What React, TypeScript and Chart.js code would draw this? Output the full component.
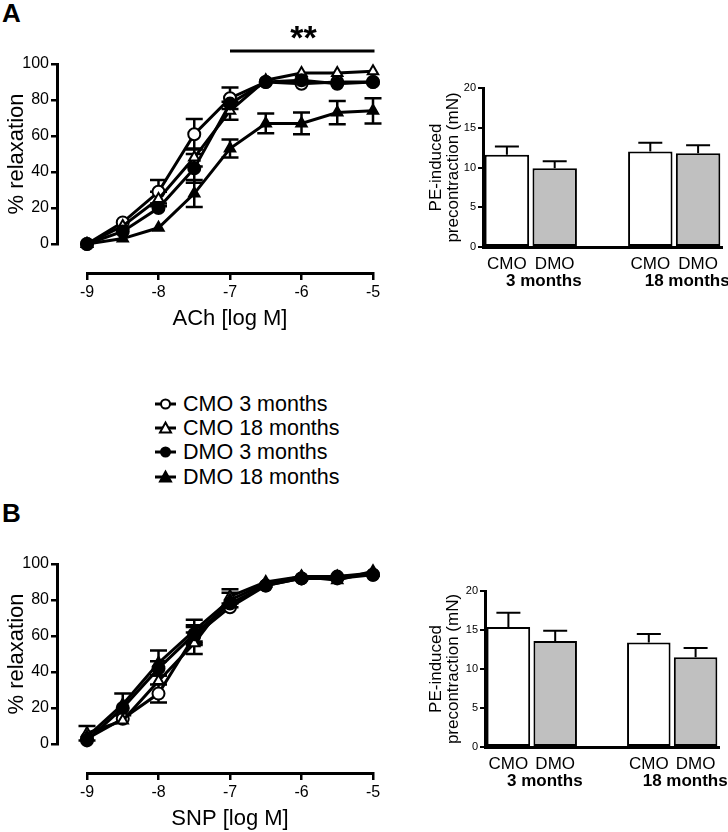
import React, { useEffect, useRef } from 'react';
import { Chart, registerables } from 'chart.js';

Chart.register(...registerables);

const FONT = '"Liberation Sans", Arial, Helvetica, sans-serif';

// ---------- data ----------
const doses = [-9, -8.5, -8, -7.5, -7, -6.5, -6, -5.5, -5];
const seriesNames = ['CMO 3 months', 'CMO 18 months', 'DMO 3 months', 'DMO 18 months'];

// Panel A: ACh
const achCmo3 = [0, 12, 29, 61, 81, 90, 89, 90, 90];
const achCmo3Err = [0.5, 2.5, 6.5, 8.5, 6, 1.5, 2, 1.5, 1.5];
const achCmo18 = [0, 10, 25, 48, 74, 91, 95, 95, 96];
const achCmo18Err = [0.5, 2.5, 4, 5, 5, 1.5, 1, 1.5, 1.5];
const achDmo3 = [0, 7, 20, 42, 78, 90, 91, 89, 90];
const achDmo3Err = [0.5, 2, 2, 8, 3, 1.5, 1.5, 2, 1.5];
const achDmo18 = [0, 3, 9, 28, 53, 67, 67, 73, 74];
const achDmo18Err = [0.5, 1.5, 3.5, 7.5, 5, 5.5, 6, 6.5, 7];

// Panel B: SNP
const snpCmo3 = [3, 14, 28, 60, 76, 88, 92, 92, 94];
const snpCmo3Err = [1, 2, 5, 5, 3, 2, 1, 1, 1];
const snpCmo18 = [6, 13, 35, 56, 82, 90, 93, 93, 95];
const snpCmo18Err = [4, 2, 3, 6, 4, 2, 1, 2, 1];
const snpDmo3 = [2, 20, 42, 61, 78, 88, 92, 93, 94];
const snpDmo3Err = [1, 3, 4, 5, 3, 2, 1, 1, 1];
const snpDmo18 = [4, 22, 45, 63, 80, 89, 93, 91, 96];
const snpDmo18Err = [2, 6, 7, 6, 4, 3, 1, 3, 1];

// PE-induced precontraction bars
const barLabels = ['CMO', 'DMO', '', 'CMO', 'DMO'];
const groupLabels = ['3 months', '18 months'];
const groupMembers = [[0, 1], [3, 4]];
const peA = [11.6, 9.9, null, 12.0, 11.8];
const peAErr = [1.05, 0.9, null, 1.1, 1.0];
const peB = [15.4, 13.6, null, 13.4, 11.5];
const peBErr = [1.8, 1.3, null, 1.1, 1.2];
const barFills = ['#ffffff', '#c0c0c0', '#ffffff', '#ffffff', '#c0c0c0'];

// ---------- styles ----------
const AXIS_COLOR = '#000000';
const seriesStyles = [
  { pointStyle: 'circle', fill: '#ffffff' },
  { pointStyle: 'triangle', fill: '#ffffff' },
  { pointStyle: 'circle', fill: '#000000' },
  { pointStyle: 'triangle', fill: '#000000' },
];

const lineErrorPlugin = (errors: number[][]) => ({
  id: 'lineErrors',
  beforeDatasetsDraw(chart: any) {
    const { ctx, scales } = chart;
    const y = scales.y;
    ctx.save();
    ctx.strokeStyle = '#000';
    ctx.lineWidth = 2.5;
    chart.data.datasets.forEach((ds: any, i: number) => {
      const meta = chart.getDatasetMeta(i);
      meta.data.forEach((pt: any, j: number) => {
        const v = ds.data[j].y;
        const e = errors[i][j];
        const top = y.getPixelForValue(v + e);
        const bot = y.getPixelForValue(v - e);
        if (bot - top < 14) return;
        ctx.beginPath();
        ctx.moveTo(pt.x, top);
        ctx.lineTo(pt.x, bot);
        ctx.moveTo(pt.x - 8.5, top);
        ctx.lineTo(pt.x + 8.5, top);
        ctx.moveTo(pt.x - 8.5, bot);
        ctx.lineTo(pt.x + 8.5, bot);
        ctx.stroke();
      });
    });
    ctx.restore();
  },
});

const sigFrom = -7;
const sigTo = -5;
const sigText = '**';
const sigPlugin = {
  id: 'sig',
  afterDraw(chart: any) {
    const { ctx, chartArea, scales } = chart;
    const x1 = scales.x.getPixelForValue(sigFrom);
    const x2 = scales.x.getPixelForValue(sigTo);
    const ly = chartArea.top - 13;
    ctx.save();
    ctx.strokeStyle = '#000';
    ctx.lineWidth = 3;
    ctx.beginPath();
    ctx.moveTo(x1, ly);
    ctx.lineTo(x2 + 1.5, ly);
    ctx.stroke();
    ctx.fillStyle = '#000';
    ctx.font = `bold 34px ${FONT}`;
    ctx.textAlign = 'center';
    ctx.textBaseline = 'alphabetic';
    ctx.fillText(sigText, (x1 + x2) / 2 + 2, ly - 2);
    ctx.restore();
  },
};

const spacer = (pos: string, size: number) => ({
  type: 'linear',
  position: pos,
  weight: 0,
  display: true,
  grid: { display: false, drawTicks: false },
  border: { display: false },
  ticks: { display: false },
  afterFit: (s: any) => {
    if (pos === 'bottom') s.height = size;
    else s.width = size;
  },
});

function LineChart({ series, errors, xTitle, top, showSig }: any) {
  const ref = useRef<HTMLCanvasElement>(null);
  useEffect(() => {
    const plugins: any[] = [lineErrorPlugin(errors)];
    if (showSig) plugins.push(sigPlugin);
    const gridOpts = (tl: number) => ({
      display: true,
      drawOnChartArea: false,
      drawTicks: true,
      tickLength: tl,
      lineWidth: 2.5,
      color: '#000',
    });
    const chart = new Chart(ref.current as HTMLCanvasElement, {
      type: 'line',
      data: {
        datasets: series.map((vals: number[], i: number) => ({
          label: seriesNames[i],
          data: doses.map((d, j) => ({ x: d, y: vals[j] })),
          borderColor: '#000',
          borderWidth: 3,
          pointStyle: seriesStyles[i].pointStyle,
          pointRadius: 6,
          pointBackgroundColor: seriesStyles[i].fill,
          pointBorderColor: '#000',
          pointBorderWidth: 2,
          tension: 0,
          fill: false,
          clip: false,
          order: seriesNames.length - i,
          xAxisID: 'x',
          yAxisID: 'y',
        })),
      },
      options: {
        animation: false,
        responsive: false,
        events: [],
        layout: { padding: { top: 64, right: 27, left: 0, bottom: 0 } },
        plugins: { legend: { display: false }, tooltip: { enabled: false } },
        scales: {
          xGap: spacer('bottom', 29),
          yGap: spacer('left', 30),
          x: {
            type: 'linear',
            position: 'bottom',
            weight: 1,
            min: -9,
            max: -5,
            afterFit: (s: any) => {
              s.height = 67;
            },
            grid: gridOpts(7),
            border: { display: true, color: AXIS_COLOR, width: 3 },
            ticks: {
              stepSize: 1,
              color: '#000',
              font: { family: FONT, size: 16 },
              padding: 3,
              maxRotation: 0,
              callback: (v: any) => String(v),
            },
            title: {
              display: true,
              text: xTitle,
              color: '#000',
              font: { family: FONT, size: 22 },
              padding: { top: 0, bottom: 8 },
            },
          },
          y: {
            type: 'linear',
            position: 'left',
            weight: 1,
            min: 0,
            max: 100,
            afterFit: (s: any) => {
              s.width = 57;
            },
            grid: gridOpts(6),
            border: { display: true, color: AXIS_COLOR, width: 3 },
            ticks: {
              stepSize: 20,
              color: '#000',
              font: { family: FONT, size: 16 },
              padding: 2,
              callback: (v: any) => String(v),
            },
            title: {
              display: true,
              text: '% relaxation',
              color: '#000',
              font: { family: FONT, size: 22 },
              padding: { top: 4, bottom: 0 },
            },
          },
        },
      } as any,
      plugins,
    });
    return () => chart.destroy();
  }, []);
  return (
    <canvas
      ref={ref}
      width={400}
      height={340}
      style={{ position: 'absolute', left: 0, top, width: 400, height: 340 }}
    />
  );
}

const barErrorPlugin = (errors: (number | null)[]) => ({
  id: 'barErrors',
  afterDatasetsDraw(chart: any) {
    const { ctx, scales } = chart;
    const y = scales.y;
    const ds = chart.data.datasets[0];
    const meta = chart.getDatasetMeta(0);
    ctx.save();
    ctx.strokeStyle = '#000';
    ctx.lineWidth = 2;
    meta.data.forEach((bar: any, j: number) => {
      const v = ds.data[j];
      const e = errors[j];
      if (v == null || e == null) return;
      const t = y.getPixelForValue(v);
      const et = y.getPixelForValue(v + e);
      ctx.beginPath();
      ctx.moveTo(bar.x, t);
      ctx.lineTo(bar.x, et);
      ctx.moveTo(bar.x - 12, et);
      ctx.lineTo(bar.x + 12, et);
      ctx.stroke();
    });
    ctx.restore();
  },
});

const groupLabelPlugin = {
  id: 'groupLabels',
  afterDraw(chart: any) {
    const { ctx, chartArea } = chart;
    const meta = chart.getDatasetMeta(0);
    ctx.save();
    ctx.fillStyle = '#000';
    ctx.font = `bold 17px ${FONT}`;
    ctx.textAlign = 'center';
    ctx.textBaseline = 'top';
    groupLabels.forEach((g, i) => {
      const [a, b] = groupMembers[i];
      const cx = (meta.data[a].x + meta.data[b].x) / 2 + 13;
      ctx.fillText(g, cx, chartArea.bottom + 26);
    });
    ctx.restore();
  },
};

function BarChart({ values, errors, top, area }: any) {
  const ref = useRef<HTMLCanvasElement>(null);
  const W = 348;
  const H = 240;
  useEffect(() => {
    const chart = new Chart(ref.current as HTMLCanvasElement, {
      type: 'bar',
      data: {
        labels: barLabels,
        datasets: [
          {
            data: values,
            backgroundColor: barFills,
            borderColor: '#000',
            borderWidth: 2,
            borderSkipped: false,
            barPercentage: 0.93,
            categoryPercentage: 1,
          },
        ],
      },
      options: {
        animation: false,
        responsive: false,
        events: [],
        layout: { padding: { top: area.top, right: W - area.right, left: 0, bottom: 0 } },
        plugins: { legend: { display: false }, tooltip: { enabled: false } },
        scales: {
          x: {
            type: 'category',
            offset: true,
            grid: { display: false, drawTicks: false },
            border: { display: true, color: '#000', width: 3 },
            ticks: {
              color: '#000',
              font: { family: FONT, size: 17 },
              padding: 7,
              autoSkip: false,
              maxRotation: 0,
            },
            afterFit: (s: any) => {
              s.height = H - area.bottom;
            },
          },
          y: {
            min: 0,
            max: 20,
            ticks: {
              stepSize: 5,
              color: '#000',
              font: { family: FONT, size: 11 },
              padding: 2,
            },
            grid: {
              display: true,
              drawOnChartArea: false,
              drawTicks: true,
              tickLength: 5,
              lineWidth: 2,
              color: '#000',
            },
            border: { display: true, color: '#000', width: 3 },
            title: {
              display: true,
              text: ['PE-induced', 'precontraction (mN)'],
              color: '#000',
              font: { family: FONT, size: 17, lineHeight: 1.0 },
              padding: { top: 48, bottom: 0 },
            },
            afterFit: (s: any) => {
              s.width = area.left;
            },
          },
        },
      } as any,
      plugins: [barErrorPlugin(errors), groupLabelPlugin],
    });
    return () => chart.destroy();
  }, []);
  return (
    <canvas
      ref={ref}
      width={W}
      height={H}
      style={{ position: 'absolute', left: 380, top, width: W, height: H }}
    />
  );
}

function LegendIcon({ i }: { i: number }) {
  const st = seriesStyles[i];
  return (
    <svg width={22} height={24} style={{ marginRight: 6, flex: 'none' }}>
      <line x1={0} y1={12} x2={21} y2={12} stroke="#000" strokeWidth={3} />
      {st.pointStyle === 'circle' ? (
        <circle cx={10.5} cy={12} r={4.5} fill={st.fill} stroke="#000" strokeWidth={2} />
      ) : (
        <polygon points="10.5,6.5 16,16.5 5,16.5" fill={st.fill} stroke="#000" strokeWidth={2} strokeLinejoin="miter" />
      )}
    </svg>
  );
}

export default function App() {
  const panelLabel = (text: string, top: number) => (
    <div
      style={{
        position: 'absolute',
        left: 2,
        top,
        fontFamily: FONT,
        fontWeight: 'bold',
        fontSize: 26,
        lineHeight: '26px',
        color: '#000',
      }}
    >
      {text}
    </div>
  );
  return (
    <div
      style={{
        position: 'absolute',
        left: 0,
        top: 0,
        width: 728,
        height: 832,
        background: '#fff',
        overflow: 'hidden',
      }}
    >
      {panelLabel('A', 0)}
      {panelLabel('B', 500)}
      <LineChart
        series={[achCmo3, achCmo18, achDmo3, achDmo18]}
        errors={[achCmo3Err, achCmo18Err, achDmo3Err, achDmo18Err]}
        xTitle="ACh [log M]"
        top={0}
        showSig={true}
      />
      <LineChart
        series={[snpCmo3, snpCmo18, snpDmo3, snpDmo18]}
        errors={[snpCmo3Err, snpCmo18Err, snpDmo3Err, snpDmo18Err]}
        xTitle="SNP [log M]"
        top={500}
        showSig={false}
      />
      <BarChart values={peA} errors={peAErr} top={60} area={{ left: 103, right: 342, top: 28, bottom: 187 }} />
      <BarChart values={peB} errors={peBErr} top={560} area={{ left: 105, right: 339, top: 31, bottom: 187 }} />
      {seriesNames.map((name, i) => (
        <div
          key={name}
          style={{
            position: 'absolute',
            left: 155,
            top: 392 + i * 24.2,
            height: 24,
            display: 'flex',
            alignItems: 'center',
            fontFamily: FONT,
            fontSize: 21.5,
            lineHeight: '24px',
            whiteSpace: 'nowrap',
            color: '#000',
          }}
        >
          <LegendIcon i={i} />
          <span>{name}</span>
        </div>
      ))}
    </div>
  );
}
